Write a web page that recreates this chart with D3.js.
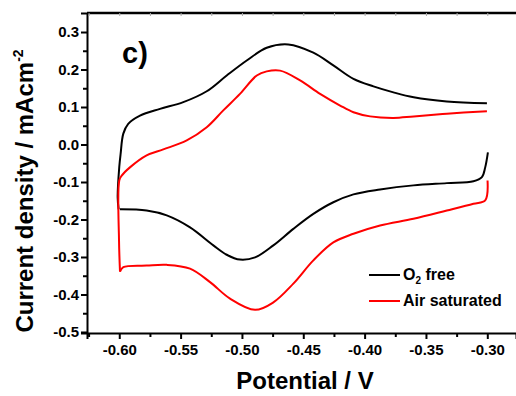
<!DOCTYPE html>
<html>
<head>
<meta charset="utf-8">
<title>Cyclic voltammogram c)</title>
<script src="https://d3js.org/d3.v7.min.js"></script>
<style>
  body { margin: 0; background: #fff; }
  svg { display: block; font-family: "Liberation Sans", Arial, sans-serif; font-weight: bold; }
</style>
</head>
<body>
<svg id="chart" width="516" height="396"></svg>
<script>
// potential (V), current density (mA cm^-2)
// anodic branch runs from right to left, cathodic from left to right
const o2FreeAnodic = [
  [-0.3003, 0.110], [-0.333, 0.115], [-0.360, 0.126], [-0.3765, 0.139], [-0.3928, 0.155],
  [-0.4091, 0.175], [-0.4255, 0.211], [-0.4418, 0.245], [-0.4622, 0.267], [-0.4798, 0.258],
  [-0.4961, 0.224], [-0.5124, 0.184], [-0.5287, 0.142], [-0.5478, 0.113], [-0.5668, 0.095],
  [-0.5831, 0.077], [-0.5927, 0.055], [-0.5967, 0.029], [-0.5989, -0.025], [-0.600, -0.060],
  [-0.6013, -0.141], [-0.6005, -0.173]
];
const o2FreeCathodic = [
  [-0.5994, -0.173], [-0.5777, -0.176], [-0.5613, -0.189], [-0.5423, -0.221], [-0.5233, -0.269],
  [-0.5124, -0.294], [-0.5016, -0.307], [-0.4893, -0.301], [-0.4744, -0.269], [-0.4581, -0.225],
  [-0.4418, -0.185], [-0.4255, -0.154], [-0.4091, -0.133], [-0.3874, -0.120], [-0.3602, -0.109],
  [-0.333, -0.103], [-0.3113, -0.098], [-0.3044, -0.087], [-0.3017, -0.061], [-0.2995, -0.021]
];
const airAnodic = [
  [-0.3003, 0.089], [-0.333, 0.082], [-0.360, 0.075], [-0.3765, 0.071], [-0.3955, 0.075],
  [-0.4091, 0.086], [-0.420, 0.104], [-0.4363, 0.135], [-0.4526, 0.171], [-0.4689, 0.197],
  [-0.4798, 0.195], [-0.4879, 0.184], [-0.5016, 0.135], [-0.5152, 0.091], [-0.5287, 0.046],
  [-0.545, 0.011], [-0.5641, -0.013], [-0.5777, -0.029], [-0.5913, -0.061], [-0.598, -0.083],
  [-0.600, -0.096], [-0.6002, -0.256], [-0.5994, -0.339]
];
const airCathodic = [
  [-0.5994, -0.339], [-0.5967, -0.327], [-0.5777, -0.323], [-0.5613, -0.321], [-0.5423, -0.331],
  [-0.526, -0.367], [-0.5097, -0.411], [-0.4893, -0.441], [-0.4744, -0.421], [-0.4581, -0.371],
  [-0.4418, -0.309], [-0.4255, -0.261], [-0.4091, -0.238], [-0.3874, -0.216], [-0.3602, -0.198],
  [-0.333, -0.176], [-0.3113, -0.158], [-0.3017, -0.149], [-0.2998, -0.096]
];

const xTicks = [-0.60, -0.55, -0.50, -0.45, -0.40, -0.35, -0.30];
const xMinorTicks = [-0.625, -0.575, -0.525, -0.475, -0.425, -0.375, -0.325, -0.275];
const yTicks = [-0.5, -0.4, -0.3, -0.2, -0.1, 0.0, 0.1, 0.2, 0.3];
const yMinorTicks = [-0.45, -0.35, -0.25, -0.15, -0.05, 0.05, 0.15, 0.25];
const seriesNames = ["O2 free", "Air saturated"];

const svg = d3.select("#chart");
const plotLeft = 87, plotRight = 516, plotTop = 13, plotBottom = 333;

const xScale = d3.scaleLinear().domain([-0.6263, -0.2766]).range([plotLeft, plotRight]);
const yScale = d3.scaleLinear().domain([-0.5027, 0.3507]).range([plotBottom, plotTop]);

// minor ticks first, then main axes on top
svg.append("g")
  .attr("transform", `translate(0,${plotBottom})`)
  .call(d3.axisBottom(xScale).tickValues(xMinorTicks).tickSize(4).tickFormat(""))
  .call(g => g.select(".domain").remove())
  .selectAll("line").attr("stroke-width", 2);

svg.append("g")
  .attr("transform", `translate(${plotLeft},0)`)
  .call(d3.axisLeft(yScale).tickValues(yMinorTicks).tickSize(4).tickFormat(""))
  .call(g => g.select(".domain").remove())
  .selectAll("line").attr("stroke-width", 2);

const xAxis = svg.append("g")
  .attr("transform", `translate(0,${plotBottom})`)
  .call(d3.axisBottom(xScale).tickValues(xTicks).tickSize(6).tickPadding(5)
    .tickFormat(d => d.toFixed(2)));

const yAxis = svg.append("g")
  .attr("transform", `translate(${plotLeft},0)`)
  .call(d3.axisLeft(yScale).tickValues(yTicks).tickSize(6).tickPadding(2)
    .tickFormat(d => d.toFixed(1)));

[xAxis, yAxis].forEach(g => {
  g.select(".domain").attr("stroke-width", 2).attr("stroke", "#000");
  g.selectAll(".tick line").attr("stroke-width", 2);
  g.selectAll(".tick text")
    .attr("fill", "#000")
    .style("font-size", "15px")
    .style("font-weight", "bold")
    .style("font-family", "'Liberation Sans', Arial, sans-serif");
});

// top frame line with faint inward ticks
svg.append("line")
  .attr("x1", plotLeft).attr("x2", plotRight)
  .attr("y1", plotTop).attr("y2", plotTop)
  .attr("stroke", "#000").attr("stroke-width", 2.5);

svg.append("g")
  .attr("transform", `translate(0,${plotTop})`)
  .call(d3.axisTop(xScale).tickValues(xTicks.concat(xMinorTicks)).tickSize(-3).tickFormat(""))
  .call(g => g.select(".domain").remove())
  .selectAll("line").attr("stroke", "#aaa").attr("stroke-width", 1);

// curves
const line = d3.line()
  .x(d => xScale(d[0]))
  .y(d => yScale(d[1]))
  .curve(d3.curveCatmullRom.alpha(0.5));

[o2FreeAnodic, o2FreeCathodic].forEach(branch => {
  svg.append("path")
    .attr("d", line(branch))
    .attr("fill", "none")
    .attr("stroke", "#000")
    .attr("stroke-width", 2);
});

[airAnodic, airCathodic].forEach(branch => {
  svg.append("path")
    .attr("d", line(branch))
    .attr("fill", "none")
    .attr("stroke", "#ff0000")
    .attr("stroke-width", 2);
});

// panel label
svg.append("text")
  .attr("x", 122).attr("y", 63)
  .style("font-size", "29px")
  .text("c)");

// legend
const legend = svg.append("g");
const legendColors = ["#000", "#ff0000"];
seriesNames.forEach((name, i) => {
  const ly = 275 + i * 26;
  legend.append("line")
    .attr("x1", 369).attr("x2", 400)
    .attr("y1", ly).attr("y2", ly)
    .attr("stroke", legendColors[i]).attr("stroke-width", 2);
  const t = legend.append("text")
    .attr("x", 403).attr("y", ly + 5)
    .style("font-size", "16px");
  if (name === "O2 free") {
    t.append("tspan").text("O");
    t.append("tspan").attr("dy", 4).style("font-size", "10px").text("2");
    t.append("tspan").attr("dy", -4).text(" free");
  } else {
    t.text(name);
  }
});

// axis titles
svg.append("text")
  .attr("x", 305).attr("y", 389)
  .attr("text-anchor", "middle")
  .style("font-size", "24px")
  .text("Potential / V");

const yTitle = svg.append("text")
  .attr("transform", "translate(33,191) rotate(-90)")
  .attr("text-anchor", "middle")
  .style("font-size", "24px");
yTitle.append("tspan").text("Current density / mAcm");
yTitle.append("tspan").attr("dy", -10).style("font-size", "14px").text("-2");
</script>
</body>
</html>
